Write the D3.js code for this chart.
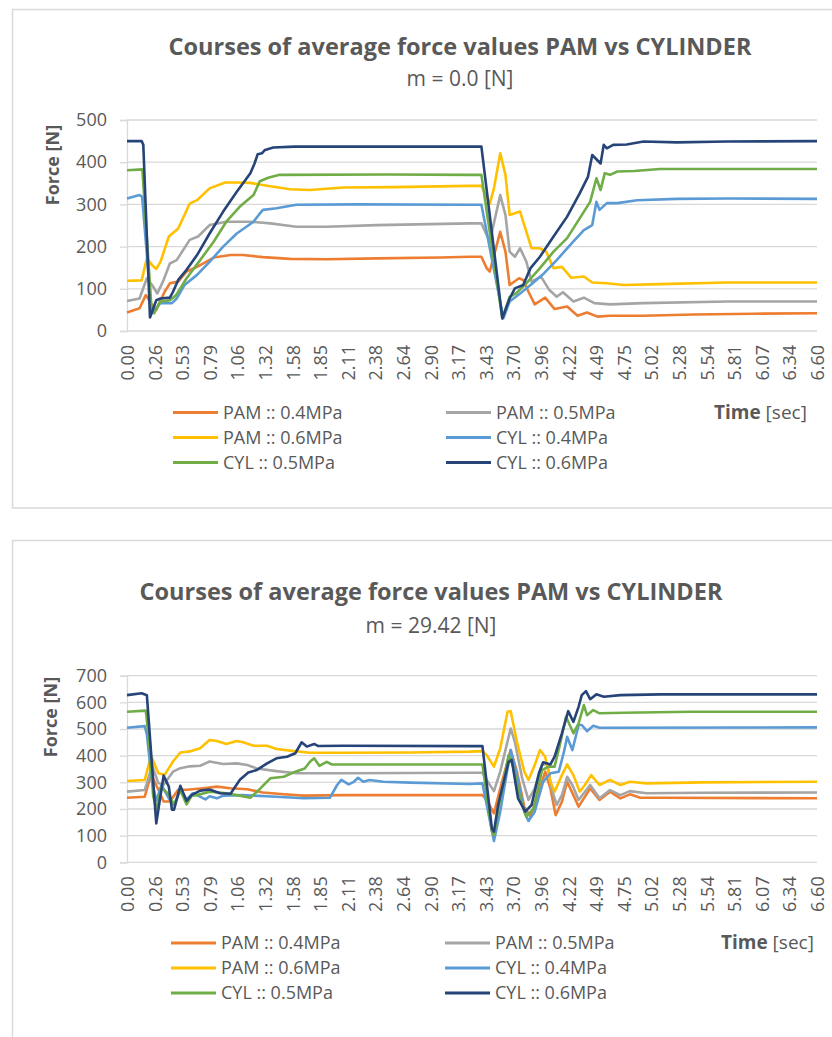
<!DOCTYPE html>
<html>
<head>
<meta charset="utf-8">
<script src="https://cdn.jsdelivr.net/npm/d3@7"></script>
<style>
  body { margin: 0; background: #fff; }
  svg { display: block; font-family: "Open Sans", "DejaVu Sans", sans-serif; }
</style>
</head>
<body>
<svg id="graph" width="832" height="1037"></svg>
<script>
// tick labels of the category axis (seconds)
var timeLabels = ["0.00","0.26","0.53","0.79","1.06","1.32","1.58","1.85","2.11","2.38","2.64","2.90","3.17",
                  "3.43","3.70","3.96","4.22","4.49","4.75","5.02","5.28","5.54","5.81","6.07","6.34","6.60"]
var seriesNames = ["PAM :: 0.4MPa", "PAM :: 0.5MPa", "PAM :: 0.6MPa", "CYL :: 0.4MPa", "CYL :: 0.5MPa", "CYL :: 0.6MPa"]
var seriesColors = ["#ed7d31", "#a5a5a5", "#ffc000", "#5b9bd5", "#70ad47", "#264478"]

// m = 0.0 [N]   -> [time, force]
var pam04_m0 = [[0,44],[0.12,54],[0.18,85],[0.24,62],[0.28,50],[0.36,93],[0.41,113],[0.49,117],[0.57,141],[0.67,152],
  [0.83,174],[0.99,180],[1.11,180],[1.30,175],[1.56,171],[1.91,170],[2.39,172],[3.0,174],[3.28,176],[3.39,176],
  [3.44,149],[3.47,141],[3.57,235],[3.62,188],[3.66,109],[3.75,125],[3.79,121],[3.84,93],[3.90,63],[4.00,79],
  [4.09,52],[4.21,58],[4.31,36],[4.40,44],[4.50,34],[4.62,36],[4.94,36],[5.42,39],[6.0,41],[6.6,42]]
var pam05_m0 = [[0,71],[0.12,77],[0.19,125],[0.24,109],[0.29,89],[0.35,121],[0.41,160],[0.475,168],[0.60,216],[0.68,224],
  [0.79,251],[0.95,259],[1.18,259],[1.37,255],[1.62,247],[1.91,247],[2.39,251],[3.28,255],[3.39,255],[3.47,212],
  [3.57,322],[3.62,275],[3.66,188],[3.71,176],[3.76,196],[3.82,164],[3.87,117],[3.96,129],[4.04,97],[4.11,81],
  [4.17,92],[4.27,70],[4.37,79],[4.47,66],[4.62,63],[4.94,66],[5.74,70],[6.6,70]]
var pam06_m0 = [[0,119],[0.14,120],[0.19,172],[0.24,156],[0.28,147],[0.32,164],[0.40,224],[0.49,243],[0.60,302],[0.67,310],
  [0.79,338],[0.94,352],[1.05,352],[1.18,351],[1.34,344],[1.56,336],[1.75,334],[2.07,340],[2.55,341],[3.28,344],
  [3.39,344],[3.47,302],[3.51,338],[3.57,421],[3.62,370],[3.66,275],[3.71,279],[3.76,283],[3.81,243],[3.87,196],
  [3.95,196],[4.01,188],[4.08,149],[4.16,152],[4.25,126],[4.37,129],[4.45,115],[4.59,113],[4.75,109],[5.10,111],
  [5.74,115],[6.6,115]]
var cyl04_m0 = [[0,314],[0.12,322],[0.145,318],[0.236,42],[0.32,66],[0.43,66],[0.475,77],[0.55,109],[0.67,133],[0.79,164],
  [0.92,200],[1.05,231],[1.21,259],[1.26,275],[1.30,287],[1.43,291],[1.62,299],[2.2,300],[3.28,299],[3.39,299],
  [3.60,30],[3.66,70],[3.76,89],[3.86,109],[3.99,137],[4.11,168],[4.24,204],[4.37,239],[4.45,251],[4.49,306],
  [4.52,287],[4.59,303],[4.69,303],[4.88,310],[5.26,313],[5.74,314],[6.6,313]]
var cyl05_m0 = [[0,381],[0.147,383],[0.236,46],[0.26,42],[0.316,69],[0.41,73],[0.47,85],[0.57,125],[0.70,168],[0.83,212],
  [0.95,259],[1.08,295],[1.21,322],[1.27,355],[1.30,358],[1.35,363],[1.46,370],[2.5,371],[3.28,370],[3.39,370],
  [3.59,30],[3.66,81],[3.72,89],[3.82,113],[3.95,149],[4.08,188],[4.21,220],[4.33,267],[4.43,306],[4.49,362],
  [4.53,334],[4.57,374],[4.62,370],[4.69,378],[4.85,379],[5.10,384],[6.6,384]]
var cyl06_m0 = [[0,450],[0.14,450],[0.156,441],[0.22,32],[0.28,73],[0.32,77],[0.41,79],[0.44,93],[0.49,121],[0.57,145],
  [0.67,180],[0.79,231],[0.92,283],[1.05,330],[1.18,374],[1.22,397],[1.25,419],[1.29,421],[1.32,429],[1.40,435],
  [1.6,437],[3.28,437],[3.39,437],[3.59,30],[3.66,77],[3.71,101],[3.79,109],[3.86,149],[3.95,176],[4.08,224],
  [4.21,271],[4.33,326],[4.41,366],[4.45,417],[4.53,397],[4.56,441],[4.59,433],[4.65,441],[4.78,442],[4.94,449],
  [5.26,447],[5.74,449],[6.6,450]]

// m = 29.42 [N]
var pam04_m29 = [[0,242],[0.17,246],[0.23,330],[0.30,272],[0.35,228],[0.41,228],[0.49,272],[0.57,272],[0.73,278],[0.86,284],
  [0.99,278],[1.15,274],[1.30,262],[1.50,255],[1.69,250],[2.07,252],[3.28,252],[3.40,252],[3.44,234],[3.51,184],
  [3.57,277],[3.67,421],[3.73,340],[3.80,209],[3.86,171],[3.94,265],[4.00,340],[4.05,277],[4.10,177],[4.16,227],
  [4.21,302],[4.27,252],[4.32,209],[4.43,277],[4.52,234],[4.62,265],[4.72,240],[4.81,255],[4.91,242],[5.10,242],[6.6,240]]
var pam05_m29 = [[0,265],[0.17,271],[0.24,362],[0.30,297],[0.35,291],[0.44,340],[0.51,353],[0.60,360],[0.70,362],[0.79,378],
  [0.92,369],[1.05,371],[1.15,365],[1.24,352],[1.43,342],[1.62,334],[2.07,334],[3.28,336],[3.40,336],[3.44,309],
  [3.51,267],[3.57,340],[3.67,502],[3.71,452],[3.78,315],[3.84,234],[3.90,277],[3.97,365],[4.02,371],[4.06,277],
  [4.11,215],[4.16,252],[4.21,321],[4.26,290],[4.32,234],[4.43,290],[4.52,240],[4.62,271],[4.72,252],[4.81,267],
  [4.97,259],[5.5,261],[6.6,262]]
var pam06_m29 = [[0,305],[0.17,309],[0.23,400],[0.30,334],[0.36,328],[0.44,378],[0.51,412],[0.60,416],[0.70,428],[0.79,459],
  [0.86,455],[0.95,444],[1.05,455],[1.11,450],[1.21,437],[1.34,437],[1.43,425],[1.56,419],[1.75,411],[2.07,411],
  [2.71,412],[3.28,415],[3.40,417],[3.44,402],[3.51,359],[3.57,427],[3.64,565],[3.67,567],[3.73,452],[3.80,340],
  [3.84,309],[3.90,365],[3.95,421],[4.00,396],[4.05,302],[4.09,265],[4.16,327],[4.21,367],[4.27,327],[4.33,265],
  [4.38,290],[4.44,327],[4.52,290],[4.62,309],[4.72,290],[4.81,302],[4.97,296],[5.5,300],[6.6,302]]
var cyl04_m29 = [[0,505],[0.17,511],[0.19,480],[0.24,300],[0.28,230],[0.33,290],[0.40,240],[0.45,215],[0.51,275],[0.57,235],
  [0.63,259],[0.67,252],[0.75,236],[0.79,248],[0.86,240],[0.92,250],[1.11,252],[1.43,246],[1.69,240],[1.94,242],
  [2.01,290],[2.05,309],[2.12,292],[2.17,302],[2.21,317],[2.26,302],[2.32,309],[2.45,302],[2.71,299],[3.28,294],
  [3.40,296],[3.51,80],[3.57,190],[3.67,421],[3.73,327],[3.80,190],[3.84,155],[3.90,190],[3.98,302],[4.05,334],
  [4.13,340],[4.18,415],[4.21,471],[4.26,421],[4.32,515],[4.35,515],[4.40,492],[4.46,512],[4.52,505],[6.6,506]]
var cyl05_m29 = [[0,565],[0.18,569],[0.22,420],[0.25,250],[0.28,200],[0.33,280],[0.40,255],[0.45,215],[0.51,270],[0.57,217],
  [0.62,250],[0.67,252],[0.79,265],[0.95,259],[1.05,252],[1.18,242],[1.26,271],[1.37,315],[1.50,321],[1.61,340],
  [1.70,352],[1.75,377],[1.79,390],[1.84,362],[1.91,377],[1.96,367],[2.07,367],[3.28,367],[3.40,367],[3.49,115],
  [3.51,102],[3.57,240],[3.65,402],[3.69,365],[3.76,240],[3.82,171],[3.89,202],[3.97,346],[4.03,359],[4.09,359],
  [4.14,440],[4.20,546],[4.27,484],[4.32,521],[4.37,590],[4.40,552],[4.46,571],[4.52,559],[4.75,561],[5.4,565],[6.6,565]]
var cyl06_m29 = [[0,627],[0.14,634],[0.19,627],[0.28,146],[0.35,325],[0.40,284],[0.43,197],[0.45,197],[0.51,287],[0.57,230],
  [0.62,253],[0.70,269],[0.79,273],[0.89,259],[0.99,257],[1.08,310],[1.16,337],[1.24,346],[1.34,371],[1.43,390],
  [1.53,396],[1.61,409],[1.67,450],[1.72,434],[1.79,444],[1.83,436],[2.07,437],[3.28,436],[3.40,436],[3.49,127],
  [3.51,115],[3.55,215],[3.65,377],[3.68,384],[3.74,240],[3.81,190],[3.87,215],[3.94,334],[3.98,375],[4.05,367],
  [4.09,396],[4.16,484],[4.22,567],[4.27,527],[4.32,584],[4.35,627],[4.39,642],[4.43,612],[4.49,630],[4.56,621],
  [4.72,627],[5.10,630],[6.6,630]]

var yTicks_m0 = [0,100,200,300,400,500]
var yTicks_m29 = [0,100,200,300,400,500,600,700]
var titleText = "Courses of average force values PAM vs CYLINDER"

var svg = d3.select("#graph")
var textColor = "#595959"
var gridColor = "#d9d9d9"

var drawChart = function(cfg) {
  var g = svg.append("g")
  g.append("rect")
    .attr("x", 12.5).attr("y", cfg.frameTop)
    .attr("width", 900).attr("height", cfg.frameHeight)
    .attr("fill", "none").attr("stroke", gridColor).attr("stroke-width", 1.5)

  var xScale = d3.scaleLinear().domain([0, 6.6]).range([127, 817])
  var yScale = d3.scaleLinear().domain([0, d3.max(cfg.yTicks)]).range([cfg.plotBottom, cfg.plotTop])

  // gridlines
  g.selectAll("line.grid")
    .data(cfg.yTicks)
    .enter().append("line")
    .attr("class", "grid")
    .attr("x1", 127).attr("x2", 817)
    .attr("y1", function(d) {return yScale(d)})
    .attr("y2", function(d) {return yScale(d)})
    .attr("stroke", gridColor).attr("stroke-width", 1.3)

  // y axis
  var yAxis = g.append("g")
    .attr("transform", "translate(127,0)")
    .call(d3.axisLeft(yScale).tickValues(cfg.yTicks).tickSize(7).tickPadding(13).tickFormat(d3.format("d")))
  yAxis.select(".domain").attr("stroke", gridColor).attr("stroke-width", 1.3)
  yAxis.selectAll(".tick line").attr("stroke", gridColor).attr("stroke-width", 1.3)
  yAxis.selectAll("text").attr("fill", textColor).style("font-size", "18px").style("font-family", "Open Sans")

  // x axis (category labels every 10th point)
  var xAxis = g.append("g")
    .attr("transform", "translate(0," + cfg.plotBottom + ")")
    .call(d3.axisBottom(xScale)
      .tickValues(timeLabels.map(function(d, i) {return i * 6.6 / (timeLabels.length - 1)}))
      .tickSize(0)
      .tickFormat(function(d, i) {return timeLabels[i]}))
  xAxis.select(".domain").remove()
  xAxis.selectAll("text")
    .attr("fill", textColor).style("font-size", "18px").style("font-family", "Open Sans")
    .attr("transform", "rotate(-90)")
    .attr("x", -14).attr("y", 0).attr("dy", "0.36em")
    .style("text-anchor", "end")

  // lines
  var line = d3.line()
    .x(function(d) {return xScale(d[0])})
    .y(function(d) {return yScale(d[1])})
  g.selectAll("path.series")
    .data(cfg.series)
    .enter().append("path")
    .attr("class", "series")
    .attr("d", function(d) {return line(d)})
    .attr("fill", "none")
    .attr("stroke", function(d, i) {return seriesColors[i]})
    .attr("stroke-width", 2.6)
    .attr("stroke-linejoin", "round")

  // titles
  g.append("text")
    .attr("x", cfg.titleX).attr("y", cfg.titleY)
    .attr("text-anchor", "middle")
    .attr("fill", textColor)
    .style("font-size", "23.5px").style("font-weight", "bold")
    .text(titleText)
  g.append("text")
    .attr("x", cfg.titleX).attr("y", cfg.subY)
    .attr("text-anchor", "middle")
    .attr("fill", textColor)
    .style("font-size", "21px")
    .text(cfg.subtitle)

  g.append("text")
    .attr("transform", "translate(" + cfg.forceX + "," + cfg.forceY + ") rotate(-90)")
    .attr("text-anchor", "middle")
    .attr("fill", textColor)
    .style("font-size", "18px").style("font-weight", "bold")
    .text("Force [N]")

  var timeTitle = g.append("text")
    .attr("x", cfg.timeX).attr("y", cfg.legendTop + 6)
    .attr("fill", textColor)
    .style("font-size", "19px")
  timeTitle.append("tspan").style("font-weight", "bold").text("Time")
  timeTitle.append("tspan").text(" [sec]")

  // legend, two columns
  var legend = g.selectAll("g.legend")
    .data(seriesNames)
    .enter().append("g")
    .attr("class", "legend")
    .attr("transform", function(d, i) {
      var col = i % 2
      var row = Math.floor(i / 2)
      return "translate(" + (col == 0 ? cfg.legendX1 : cfg.legendX2) + "," + (cfg.legendTop + row * 25) + ")"
    })
  legend.append("line")
    .attr("x1", 0).attr("x2", 45).attr("y1", 0).attr("y2", 0)
    .attr("stroke", function(d, i) {return seriesColors[i]})
    .attr("stroke-width", 3)
  legend.append("text")
    .attr("x", 50).attr("y", 0).attr("dy", "0.36em")
    .attr("fill", textColor)
    .style("font-size", "18px")
    .text(function(d) {return d})
}

drawChart({
  series: [pam04_m0, pam05_m0, pam06_m0, cyl04_m0, cyl05_m0, cyl06_m0],
  yTicks: yTicks_m0, subtitle: "m = 0.0 [N]",
  frameTop: 9.5, frameHeight: 498.5,
  plotTop: 120, plotBottom: 331,
  titleX: 460, titleY: 55, subY: 86,
  forceX: 59, forceY: 165,
  timeX: 714, legendTop: 412.5, legendX1: 173, legendX2: 446
})
drawChart({
  series: [pam04_m29, pam05_m29, pam06_m29, cyl04_m29, cyl05_m29, cyl06_m29],
  yTicks: yTicks_m29, subtitle: "m = 29.42 [N]",
  frameTop: 540.5, frameHeight: 600,
  plotTop: 675.7, plotBottom: 862.3,
  titleX: 431, titleY: 600, subY: 633,
  forceX: 57, forceY: 717,
  timeX: 721, legendTop: 943, legendX1: 171, legendX2: 445
})
</script>
</body>
</html>
